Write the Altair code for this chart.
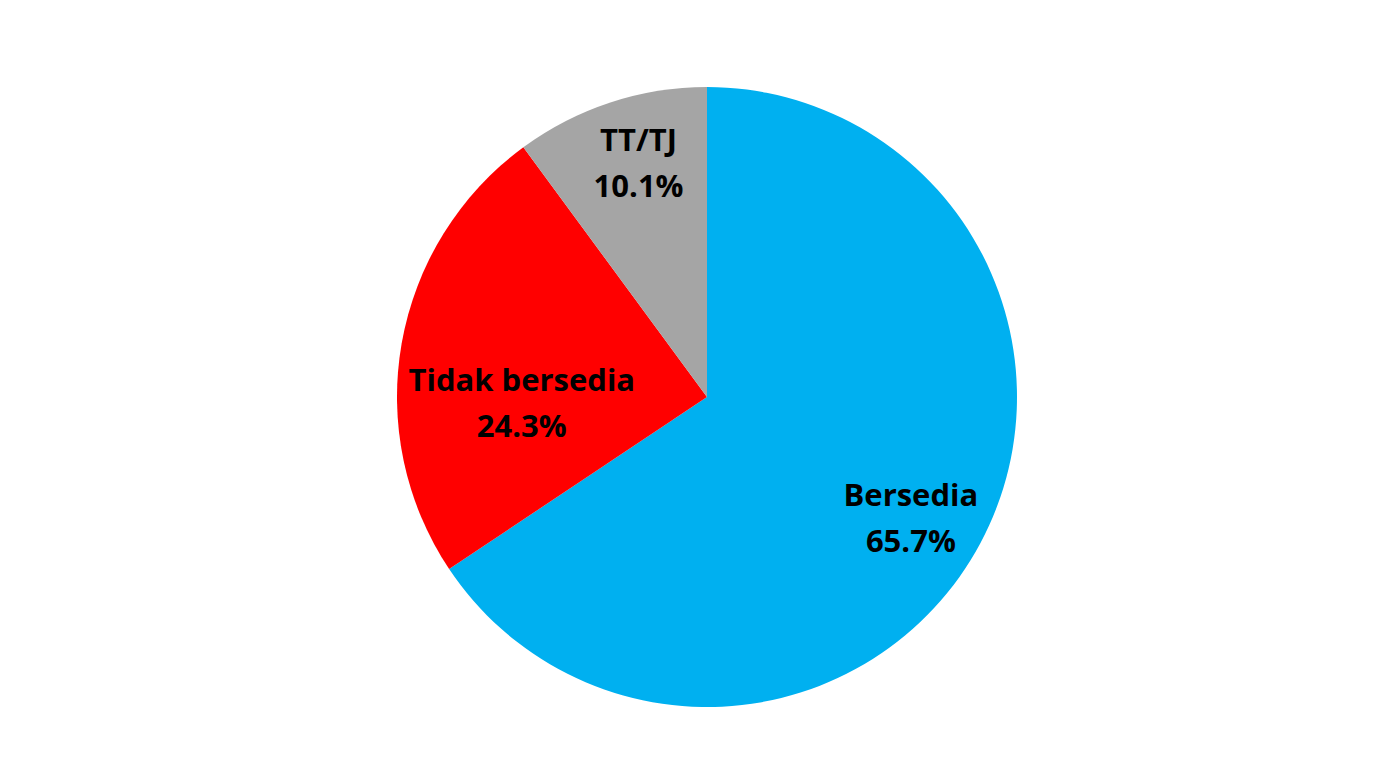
import altair as alt
import pandas as pd

categories = ["Bersedia", "Tidak bersedia", "TT/TJ"]
values = [65.7, 24.3, 10.1]
orders = [1, 2, 3]
colors = ["#00B0F0", "#FF0000", "#A5A5A5"]

df = pd.DataFrame({"category": categories, "value": values, "order": orders})
total = sum(values)

CX, CY, R = 699, 389, 310
LH = 46
theta_scale = alt.Scale(domain=[0, total], range=[0, 6.283185307179586])

pie = alt.Chart(df).mark_arc(outerRadius=R, strokeWidth=0).encode(
    theta=alt.Theta("value:Q", stack=True, scale=theta_scale),
    order=alt.Order("order:Q"),
    color=alt.Color("category:N", scale=alt.Scale(domain=categories, range=colors), legend=None),
    x=alt.value(CX),
    y=alt.value(CY),
)

label_style = {
    "Bersedia": dict(radius=238, dx=-6, dy=11),
    "Tidak bersedia": dict(radius=185, dx=-3, dy=40),
    "TT/TJ": dict(radius=242, dx=7, dy=-2),
}

base_text = alt.Chart(df).transform_window(
    cum="sum(value)", sort=[alt.SortField("order")]
).transform_calculate(
    mid="datum.cum - datum.value / 2",
    label="datum.category + '\\n' + format(datum.value, '.1f') + '%'",
)

texts = []
for c in categories:
    st = label_style[c]
    t = base_text.transform_filter(alt.datum.category == c).mark_text(
        radius=st["radius"], dx=st["dx"], dy=st["dy"] - LH / 2,
        font="Open Sans", fontWeight="bold", fontSize=31, color="#000000",
        align="center", baseline="middle", lineBreak="\n", lineHeight=LH,
    ).encode(
        theta=alt.Theta("mid:Q", scale=theta_scale, stack=None),
        text="label:N",
        x=alt.value(CX),
        y=alt.value(CY),
    )
    texts.append(t)

chart = alt.layer(pie, *texts).properties(
    width=1364, height=763, autosize="none", padding=0, background="white"
).configure_view(stroke=None)

chart.save("out.html", embed_options={"renderer": "svg", "actions": False})
